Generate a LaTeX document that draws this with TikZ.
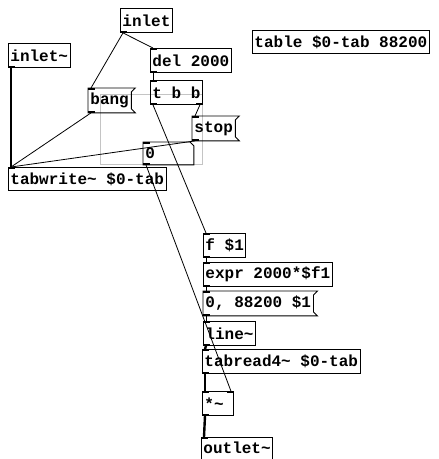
\documentclass[tikz,border=0pt]{standalone}
\usepackage{fontspec}
\setmonofont{Liberation Mono}
\usetikzlibrary{calc}
\definecolor{ink}{RGB}{0,0,0}
\definecolor{selgray}{RGB}{196,196,196}

% outline of a message box (flag on the right)
\newcommand{\msgflag}[1]{\draw[ink, line width=0.9pt] (#1.north west) -- ($(#1.north east)+(4,0)$) -- ($(#1.north east)+(0,4)$) -- ($(#1.south east)+(0,-4)$) -- ($(#1.south east)+(4,0)$) -- (#1.south west) -- cycle;}
% outline of a number box (cut corner)
\newcommand{\numcut}[1]{\draw[ink, line width=0.9pt] (#1.north west) -- ($(#1.north east)+(-4,0)$) -- ($(#1.north east)+(0,4)$) -- (#1.south east) -- (#1.south west) -- cycle;}

\begin{document}
\begin{tikzpicture}[x=1pt, y=-1pt,
  font=\ttfamily\bfseries\fontsize{16}{16}\selectfont,
  obj/.style={draw=ink, line width=0.9pt, anchor=north west, inner xsep=2pt, inner ysep=0pt, minimum height=24pt, align=left},
  msg/.style={obj, draw=none},
  ctl/.style={draw=ink, line width=0.8pt},
  sig/.style={draw=ink, line width=2.4pt}]
  \useasboundingbox[fill=white] (0,0) rectangle (439,459);
  \draw[selgray, line width=0.8pt] (100,94) rectangle (202,164);
  \node[obj] (inlet) at (120,8) {inlet};
  \node[obj] (inletsig) at (8,43) {inlet\char`~};
  \node[obj] (del) at (150,48) {del 2000};
  \node[obj] (tbb) at (150,80) {t b b};
  \node[msg] (bang) at (88,88) {bang};
  \node[msg] (stop) at (192,116) {stop};
  \node[obj, draw=none, text width=46pt, minimum height=22pt] (num) at (143,142) {0};
  \node[obj, minimum height=23pt] (tabwrite) at (8,167) {tabwrite\char`~{} \$0-tab};
  \node[obj, minimum height=23pt] (table) at (252,30) {table \$0-tab 88200};
  \node[obj] (fone) at (203,233) {f \$1};
  \node[obj] (expr) at (203,262) {expr 2000*\$f1};
  \node[msg] (ramp) at (203,291) {0, 88200 \$1};
  \node[obj] (line) at (203,321) {line\char`~};
  \node[obj] (tabread) at (202,349) {tabread4\char`~{} \$0-tab};
  \node[obj, text width=27pt] (mul) at (202,391) {*\char`~};
  \node[obj, minimum height=21.5pt] (outletsig) at (201,437) {outlet\char`~};
  \msgflag{bang}
  \msgflag{stop}
  \msgflag{ramp}
  \numcut{num}
  % inlet / outlet tabs
  \foreach \n in {del,tbb,bang,stop,num,tabwrite,fone,expr,ramp,line,tabread,mul,outletsig}
    \fill[ink] (\n.north west) rectangle ++(7,2);
  \foreach \n in {inlet,inletsig,del,tbb,bang,stop,num,fone,expr,ramp,line,tabread,mul}
    \fill[ink] (\n.south west) rectangle ++(7,-2);
  \fill[ink] (tbb.south east) rectangle ++(-7,-2);
  \fill[ink] (mul.north east) rectangle ++(-7,2);
  % control connections
  \draw[ctl] ([xshift=3pt]inlet.south west) -- ([xshift=3pt]del.north west);
  \draw[ctl] ([xshift=3pt]inlet.south west) -- ([xshift=3pt]bang.north west);
  \draw[ctl] ([xshift=3pt]bang.south west) -- ([xshift=3pt]tabwrite.north west);
  \draw[ctl] ([xshift=3pt]stop.south west) -- ([xshift=3pt]tabwrite.north west);
  \draw[ctl] ([xshift=3pt]del.south west) -- ([xshift=3pt]tbb.north west);
  \draw[ctl] ([xshift=-3pt]tbb.south east) -- ([xshift=3pt]stop.north west);
  \draw[ctl] ([xshift=3pt]tbb.south west) -- ([xshift=3pt]fone.north west);
  \draw[ctl] ([xshift=3pt]num.south west) -- ([xshift=-3pt]mul.north east);
  \draw[ctl] ([xshift=3pt]fone.south west) -- ([xshift=3pt]expr.north west);
  \draw[ctl] ([xshift=3pt]expr.south west) -- ([xshift=3pt]ramp.north west);
  \draw[ctl] ([xshift=3pt]ramp.south west) -- ([xshift=3pt]line.north west);
  % signal connections
  \draw[sig] ([xshift=3pt]inletsig.south west) -- ([xshift=3pt]tabwrite.north west);
  \draw[sig] ([xshift=3pt]line.south west) -- ([xshift=3pt]tabread.north west);
  \draw[sig] ([xshift=3pt]tabread.south west) -- ([xshift=3pt]mul.north west);
  \draw[sig] ([xshift=3pt]mul.south west) -- ([xshift=3pt]outletsig.north west);
\end{tikzpicture}
\end{document}
